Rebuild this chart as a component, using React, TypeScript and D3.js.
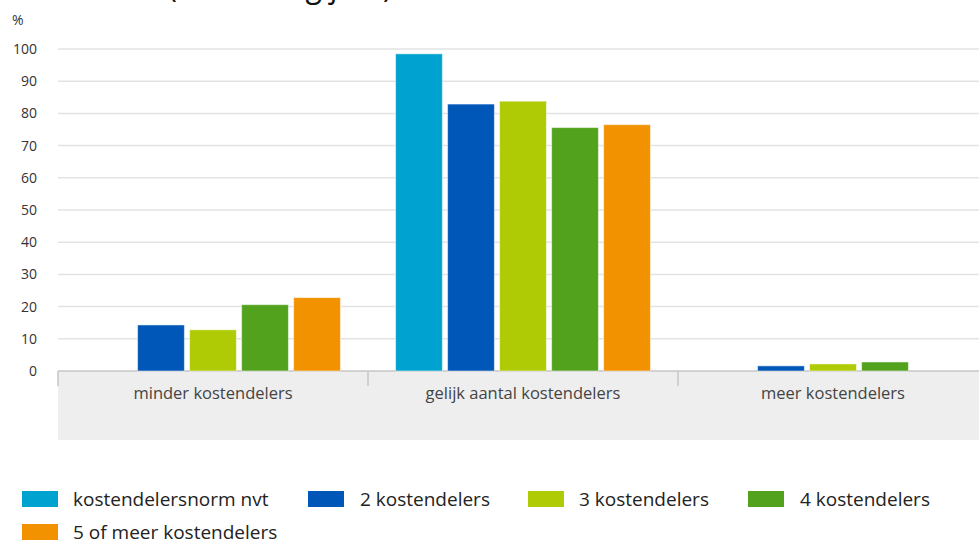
import React from 'react';
import * as d3 from 'd3';

const categories = ['minder kostendelers', 'gelijk aantal kostendelers', 'meer kostendelers'];
const seriesNames = ['kostendelersnorm nvt', '2 kostendelers', '3 kostendelers', '4 kostendelers', '5 of meer kostendelers'];
const seriesColors = ['#00a3cf', '#0057b8', '#afcb05', '#52a21e', '#f39200'];
// values per series, in category order
const normNvt = [0, 98.5, 0];
const twoSharers = [14.3, 82.9, 1.6];
const threeSharers = [12.8, 83.8, 2.2];
const fourSharers = [20.6, 75.6, 2.8];
const fivePlus = [22.8, 76.5, 0];
const yTicks = [0, 10, 20, 30, 40, 50, 60, 70, 80, 90, 100];
const titleText = '(t.o.v. vorig jaar)';

const seriesValues = [normNvt, twoSharers, threeSharers, fourSharers, fivePlus];

const W = 979;
const H = 540;
const left = 58;
const axisY = 371;

export default function App() {
  const x0 = d3.scaleBand<string>().domain(categories).range([left, left + 310 * 3]);
  const x1 = d3.scaleBand<string>()
    .domain(seriesNames)
    .range([0, x0.bandwidth()])
    .paddingInner(0.1)
    .paddingOuter(0.53);
  const y = d3.scaleLinear().domain([0, 100]).range([axisY, 49]);

  const legendRows = [
    [{ i: 0, sx: 22, tx: 73 }, { i: 1, sx: 308, tx: 360 }, { i: 2, sx: 528, tx: 579 }, { i: 3, sx: 748, tx: 800 }],
    [{ i: 4, sx: 22, tx: 73 }],
  ];

  return (
    <svg width={W} height={H} style={{ position: 'absolute', left: 0, top: 0, background: '#fff' }}
      fontFamily="'Open Sans', sans-serif">
      {/* title sits mostly above the crop, only descenders show */}
      <text x={168} y={-3} fontSize={32} fill="#111" textLength={224} lengthAdjust="spacingAndGlyphs">{titleText}</text>
      <text x={12} y={25} fontSize={14} fill="#333">%</text>

      {yTicks.map(t => (
        <g key={t}>
          {t > 0 && <line x1={left} x2={W} y1={y(t)} y2={y(t)} stroke="#e3e3e3" strokeWidth={1.5} />}
          <text x={37} y={y(t) + 5} fontSize={14} fill="#333" textAnchor="end">{t}</text>
        </g>
      ))}

      <rect x={left} y={axisY} width={W - left} height={69} fill="#eeeeee" />
      <line x1={left} x2={W} y1={axisY} y2={axisY} stroke="#c6c6c6" strokeWidth={1.5} />
      {categories.map(c => (
        <g key={c}>
          <line x1={x0(c)!} x2={x0(c)!} y1={axisY} y2={386} stroke="#c6c6c6" strokeWidth={1.5} />
          <text x={x0(c)! + x0.bandwidth() / 2} y={399} fontSize={16.5} fill="#444" textAnchor="middle">{c}</text>
        </g>
      ))}

      {categories.map((c, ci) => (
        <g key={c} transform={`translate(${x0(c)},0)`}>
          {seriesNames.map((s, si) => {
            const v = seriesValues[si][ci];
            if (!v) return null;
            return (
              <rect key={s} x={x1(s)!} y={y(v)} width={x1.bandwidth()} height={axisY - y(v)}
                fill={seriesColors[si]} stroke="#ffffff" strokeOpacity={0.5} strokeWidth={1} />
            );
          })}
        </g>
      ))}

      {legendRows.map((row, ri) => row.map(it => (
        <g key={it.i}>
          <rect x={it.sx} y={491 + ri * 33} width={36} height={16} fill={seriesColors[it.i]} />
          <text x={it.tx} y={506 + ri * 33} fontSize={19}
            fontFamily="'Liberation Sans Narrow', 'Open Sans', sans-serif" fill="#222">{seriesNames[it.i]}</text>
        </g>
      )))}
    </svg>
  );
}
